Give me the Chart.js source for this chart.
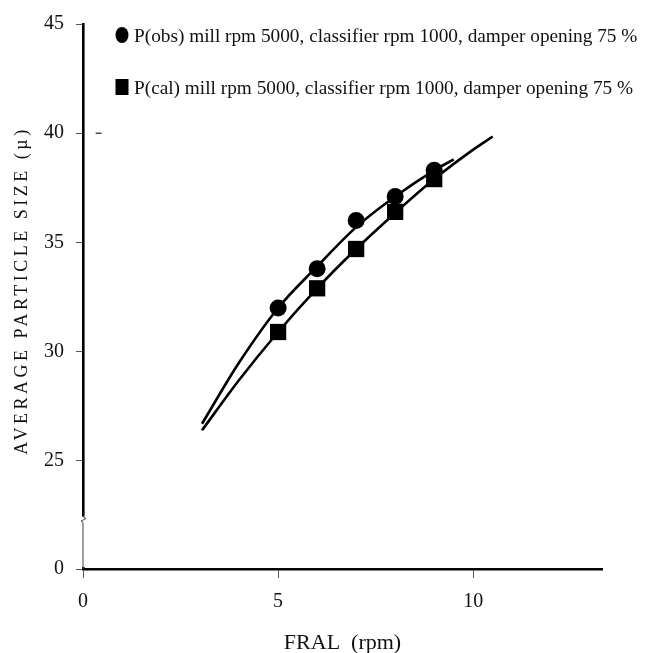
<!DOCTYPE html>
<html>
<head>
<meta charset="utf-8">
<script src="https://cdn.jsdelivr.net/npm/chart.js@4.4.1/dist/chart.umd.min.js"></script>
<style>
  html, body { margin: 0; padding: 0; background: #fff; }
  #wrap { width: 652px; height: 653px; }
</style>
</head>
<body>
<div id="wrap"><canvas id="psdChart" width="652" height="653"></canvas></div>
<script>
// average particle size vs FRAL, observed and calculated

const X_TICKS = [0, 5, 10];
const Y_TICKS = [25, 30, 35, 40, 45];
const Y_BREAK = 20.05;          // axis value that carries the "0" label below the break

const FRAL = [5, 6, 7, 8, 9];
const P_OBS = [32.0, 33.8, 36.0, 37.1, 38.3];
const P_CAL = [30.9, 32.9, 34.7, 36.4, 37.9];

// fitted curves
const FIT_OBS_X = [3.05, 4, 5, 6, 7, 8, 9, 9.5];
const FIT_OBS_Y = [26.7, 29.5, 32.0, 33.9, 35.7, 37.1, 38.3, 38.8];
const FIT_CAL_X = [3.05, 4, 5, 6, 7, 8, 9, 10, 10.5];
const FIT_CAL_Y = [26.4, 28.7, 30.9, 32.9, 34.7, 36.35, 37.9, 39.25, 39.85];

// stray dash next to the 40 tick
const STRAY = [{ x: 0.4, y: 40 }];

const OBS_LABEL = 'P(obs) mill rpm 5000, classifier rpm 1000, damper opening 75 %';
const CAL_LABEL = 'P(cal) mill rpm 5000, classifier rpm 1000, damper opening 75 %';

const SERIF = '"Liberation Serif", "Times New Roman", serif';
Chart.defaults.font.family = SERIF;
Chart.defaults.color = '#111';

const pairs = (xs, ys) => xs.map((x, i) => ({ x: x, y: ys[i] }));

// y title with letter spacing, legend, and the axis break
const extras = {
    id: 'extras',
    afterDraw(chart) {
        const ctx = chart.ctx;
        const area = chart.chartArea;
        const yScale = chart.scales.y;

        // axis break
        const breakTop = yScale.getPixelForValue(22.45);
        ctx.save();
        ctx.fillStyle = '#fff';
        ctx.fillRect(area.left - 3, breakTop, 6, area.bottom - breakTop - 2);
        ctx.strokeStyle = '#444';
        ctx.lineWidth = 1;
        ctx.beginPath();
        ctx.moveTo(area.left, breakTop + 6);
        ctx.lineTo(area.left, area.bottom);
        ctx.stroke();
        ctx.beginPath();
        ctx.moveTo(area.left, breakTop);
        ctx.lineTo(area.left + 3, breakTop + 2);
        ctx.lineTo(area.left - 2, breakTop + 4.5);
        ctx.lineTo(area.left, breakTop + 6);
        ctx.stroke();
        ctx.restore();

        // y title
        ctx.save();
        ctx.translate(22, (area.top + area.bottom) / 2 - 6);
        ctx.rotate(-Math.PI / 2);
        ctx.font = '18px ' + SERIF;
        ctx.letterSpacing = '3.5px';
        ctx.fillStyle = '#111';
        ctx.textAlign = 'center';
        ctx.textBaseline = 'middle';
        ctx.fillText('AVERAGE PARTICLE SIZE (\u00b5)', 0, 0);
        ctx.restore();

        // legend
        ctx.save();
        ctx.fillStyle = '#000';
        ctx.beginPath();
        ctx.ellipse(122, 35, 6.5, 8, 0, 0, Math.PI * 2);
        ctx.fill();
        ctx.fillRect(115.5, 79, 13, 16);
        ctx.font = '19.3px ' + SERIF;
        ctx.fillStyle = '#111';
        ctx.textBaseline = 'middle';
        ctx.fillText(chart.data.datasets[0].label, 134, 37);
        ctx.fillText(chart.data.datasets[1].label, 134, 89);
        ctx.restore();
    }
};

const ctx = document.getElementById('psdChart').getContext('2d');
new Chart(ctx, {
    type: 'scatter',
    data: {
        datasets: [{
            label: OBS_LABEL,
            data: pairs(FRAL, P_OBS),
            pointStyle: 'circle',
            pointRadius: 8.5,
            backgroundColor: '#000',
            borderColor: '#000',
            borderWidth: 0,
            showLine: false
        }, {
            label: CAL_LABEL,
            data: pairs(FRAL, P_CAL),
            pointStyle: 'rect',
            pointRadius: 11.5,
            backgroundColor: '#000',
            borderColor: '#000',
            borderWidth: 0,
            showLine: false
        }, {
            label: 'fit obs',
            data: pairs(FIT_OBS_X, FIT_OBS_Y),
            showLine: true,
            pointRadius: 0,
            borderColor: '#000',
            borderWidth: 2.6,
            cubicInterpolationMode: 'monotone'
        }, {
            label: 'fit cal',
            data: pairs(FIT_CAL_X, FIT_CAL_Y),
            showLine: true,
            pointRadius: 0,
            borderColor: '#000',
            borderWidth: 2.6,
            cubicInterpolationMode: 'monotone'
        }, {
            label: 'stray',
            data: STRAY,
            pointStyle: 'line',
            pointRadius: 3,
            borderColor: '#222',
            borderWidth: 1.2,
            showLine: false
        }]
    },
    options: {
        responsive: false,
        animation: false,
        layout: { padding: { top: 21, right: 50, left: 0, bottom: 0 } },
        plugins: {
            legend: { display: false },
            tooltip: { enabled: false }
        },
        scales: {
            x: {
                type: 'linear',
                min: 0,
                max: 13.3,
                afterBuildTicks: (scale) => { scale.ticks = X_TICKS.map(v => ({ value: v })); },
                afterFit: (scale) => { scale.height = 84; },
                ticks: { font: { size: 20 }, color: '#111', padding: 12 },
                grid: { drawOnChartArea: false, tickLength: 9, tickColor: '#555', tickWidth: 1 },
                border: { color: '#000', width: 2.6 },
                title: {
                    display: true,
                    text: 'FRAL  (rpm)',
                    font: { size: 22 },
                    color: '#111',
                    padding: { top: 0, bottom: -3 }
                }
            },
            y: {
                type: 'linear',
                min: Y_BREAK,
                max: 45,
                afterBuildTicks: (scale) => { scale.ticks = [Y_BREAK, ...Y_TICKS].map(v => ({ value: v })); },
                afterFit: (scale) => { scale.width = 83; },
                ticks: {
                    font: { size: 20 },
                    color: '#111',
                    padding: 12,
                    callback: (v) => v < 25 ? '0' : v
                },
                grid: { drawOnChartArea: false, tickLength: 7, tickColor: '#555', tickWidth: 1 },
                border: { color: '#000', width: 2.6 }
            }
        }
    },
    plugins: [extras]
});
</script>
</body>
</html>
